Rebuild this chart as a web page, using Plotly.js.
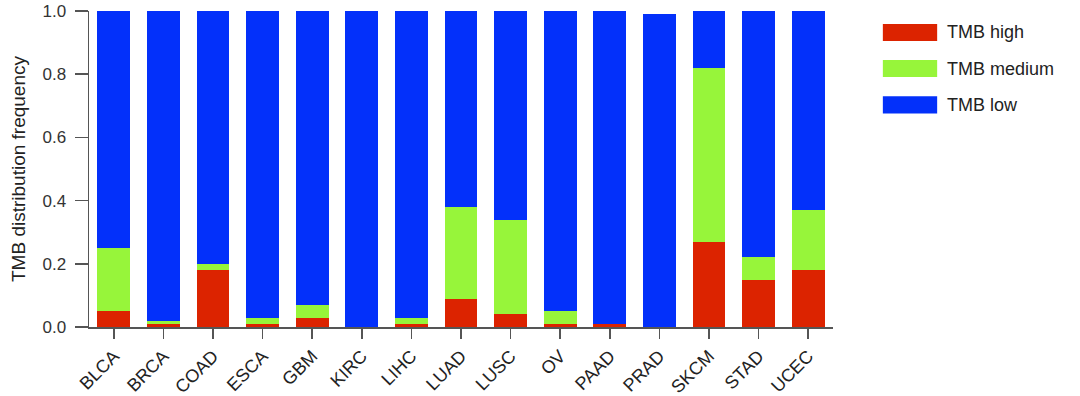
<!DOCTYPE html>
<html>
<head>
<meta charset="utf-8">
<script src="https://cdn.plot.ly/plotly-3.0.1.min.js"></script>
<style>html,body{margin:0;padding:0;background:#fff;}#chart{width:1080px;height:396px;}</style>
</head>
<body>
<div id="chart"></div>
<script>
const categories = ["BLCA","BRCA","COAD","ESCA","GBM","KIRC","LIHC","LUAD","LUSC","OV","PAAD","PRAD","SKCM","STAD","UCEC"];
const tmbHigh   = [0.05, 0.01, 0.18, 0.01, 0.03, 0.00, 0.01, 0.09, 0.04, 0.01, 0.01, 0.00, 0.27, 0.15, 0.18];
const tmbMedium = [0.20, 0.01, 0.02, 0.02, 0.04, 0.00, 0.02, 0.29, 0.30, 0.04, 0.00, 0.00, 0.55, 0.07, 0.19];
const tmbLow    = [0.75, 0.98, 0.80, 0.97, 0.93, 1.00, 0.97, 0.62, 0.66, 0.95, 0.99, 0.99, 0.18, 0.78, 0.63];
const seriesNames = ["TMB high","TMB medium","TMB low"];
const colors = ["#dc2300","#97f53a","#0330fa"];
const yTicks = [0, 0.2, 0.4, 0.6, 0.8, 1.0];
const yTickLabels = ["0.0","0.2","0.4","0.6","0.8","1.0"];

const seriesVals = [tmbHigh, tmbMedium, tmbLow];
const traces = seriesVals.map((v, i) => ({
  type: "bar", x: categories, y: v, name: seriesNames[i],
  marker: {color: colors[i], line: {width: 0}}, showlegend: false, hoverinfo: "x+y+name"
}));

const legendShapes = [], legendAnn = [];
const lx0 = 1.067, lx1 = 1.140, ly = [0.932, 0.818, 0.703];
seriesNames.forEach((n, i) => {
  legendShapes.push({type: "rect", xref: "paper", yref: "paper", x0: lx0, x1: lx1, y0: ly[i] - 0.027, y1: ly[i] + 0.027,
    fillcolor: colors[i], line: {width: 0}});
  legendAnn.push({xref: "paper", yref: "paper", x: 1.150, y: ly[i], xanchor: "left", yanchor: "middle", showarrow: false,
    text: n, font: {family: "Liberation Sans, Arial, sans-serif", size: 18, color: "#222"}});
});

const layout = {
  width: 1080, height: 396,
  margin: {l: 89, r: 247, t: 11, b: 69, pad: 0},
  barmode: "stack", bargap: 0.34,
  paper_bgcolor: "#fff", plot_bgcolor: "#fff",
  font: {family: "Liberation Sans, Arial, sans-serif", color: "#333"},
  xaxis: {
    range: [-0.5, 14.5], showgrid: false, zeroline: false, showline: true, linecolor: "#555", linewidth: 1.5,
    ticks: "outside", ticklen: 10, tickwidth: 1.5, tickcolor: "#555", tickangle: -45,
    tickfont: {size: 18, color: "#222"}, fixedrange: true
  },
  yaxis: {
    range: [0, 1.0], showgrid: false, zeroline: false, showline: true, linecolor: "#555", linewidth: 1.5,
    ticks: "outside", ticklen: 13, tickwidth: 1.5, tickcolor: "#555", ticklabelstandoff: 5,
    tickvals: yTicks, ticktext: yTickLabels, tickfont: {size: 17, color: "#333"},
    title: {text: "TMB distribution frequency", font: {size: 19, color: "#222"}, standoff: 12}
  },
  shapes: legendShapes, annotations: legendAnn
};

Plotly.newPlot("chart", traces, layout, {displayModeBar: false, staticPlot: true});
</script>
</body>
</html>
